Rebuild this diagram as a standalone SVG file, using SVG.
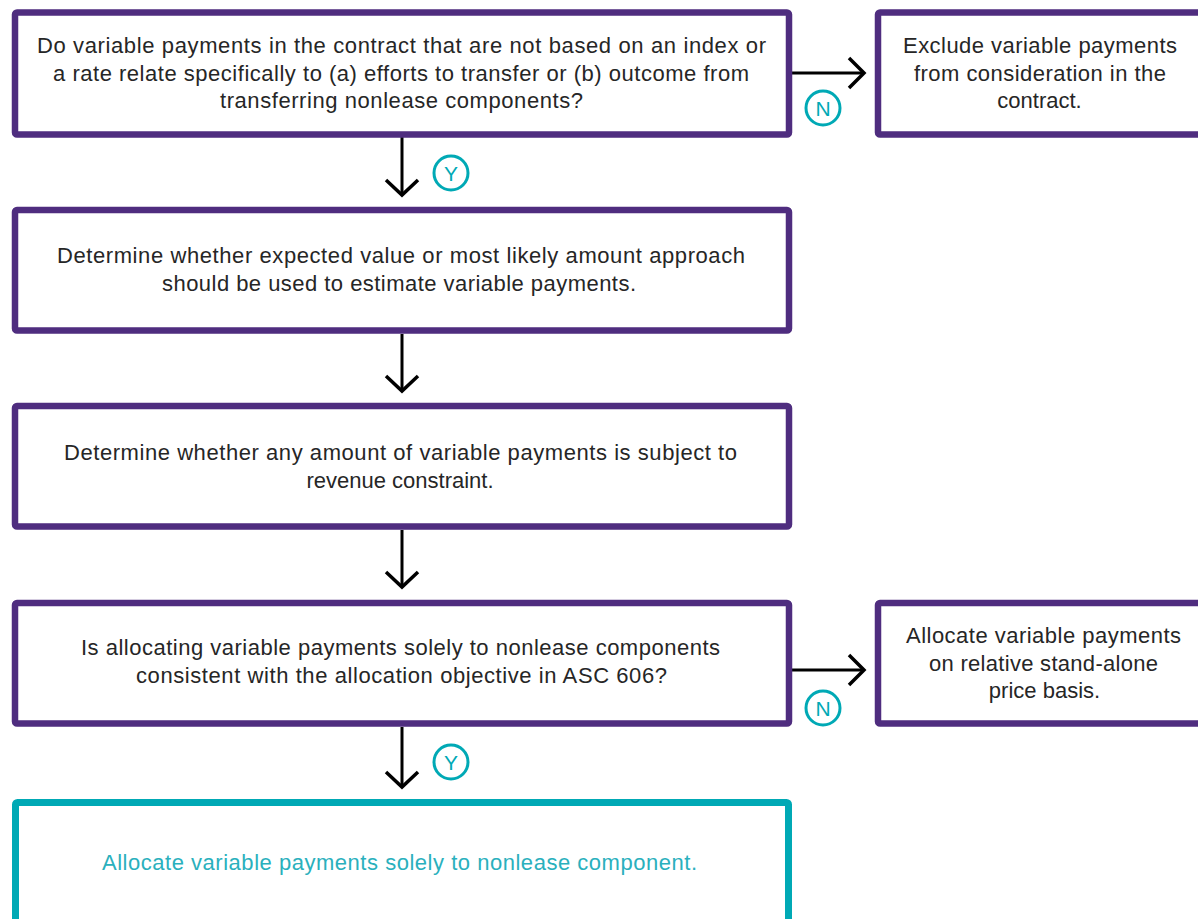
<svg xmlns="http://www.w3.org/2000/svg" width="1198" height="919" viewBox="0 0 1198 919">
<style>
.box{fill:#fff;stroke:#4F2D7F;stroke-width:6.5}
.tbox{fill:#fff;stroke:#00A9B5;stroke-width:7}
.t{font-family:"Liberation Sans",Arial,sans-serif;font-size:22px;fill:#262626;text-anchor:middle}
.tt{font-family:"Liberation Sans",Arial,sans-serif;font-size:22px;fill:#2AB0BD;text-anchor:middle}
.ln{stroke:#000;stroke-width:3;fill:none}
.hd{stroke:#000;stroke-width:3.5;fill:none;stroke-linecap:butt;stroke-linejoin:miter}
.c{fill:#fff;stroke:#00A9B5;stroke-width:3}
.cl{font-family:"Liberation Sans",Arial,sans-serif;font-size:21px;fill:#00A9B5;text-anchor:middle}
</style>
<rect width="1198" height="919" fill="#fff"/>
<g id="connectors">
<line class="ln" x1="402" y1="137" x2="402" y2="194"/>
<polyline class="hd" points="386,180 402,195 418,180"/>
<line class="ln" x1="402" y1="334" x2="402" y2="390"/>
<polyline class="hd" points="386,376 402,391 418,376"/>
<line class="ln" x1="402" y1="530" x2="402" y2="586"/>
<polyline class="hd" points="386,572 402,587 418,572"/>
<line class="ln" x1="402" y1="727" x2="402" y2="786"/>
<polyline class="hd" points="386,772 402,787 418,772"/>
<line class="ln" x1="792" y1="73" x2="863" y2="73"/>
<polyline class="hd" points="849,58 864,73 849,88"/>
<line class="ln" x1="792" y1="670" x2="863" y2="670"/>
<polyline class="hd" points="849,655 864,670 849,685"/>
<g id="label-y1"><circle class="c" cx="451" cy="173" r="17"/><text class="cl" x="451" y="181">Y</text></g>
<g id="label-n1"><circle class="c" cx="823" cy="108" r="17"/><text class="cl" x="823" y="116">N</text></g>
<g id="label-y2"><circle class="c" cx="451" cy="762" r="17"/><text class="cl" x="451" y="770">Y</text></g>
<g id="label-n2"><circle class="c" cx="823" cy="708" r="17"/><text class="cl" x="823" y="716">N</text></g>
</g>
<g id="q1">
<rect class="box" x="15" y="12.5" width="774" height="122" rx="2"/>
<text class="t" x="401.5" y="53" textLength="729" lengthAdjust="spacing">Do variable payments in the contract that are not based on an index or</text>
<text class="t" x="401" y="81" textLength="696" lengthAdjust="spacing">a rate relate specifically to (a) efforts to transfer or (b) outcome from</text>
<text class="t" x="401.5" y="108" textLength="363" lengthAdjust="spacing">transferring nonlease components?</text>
</g>
<g id="exclude">
<rect class="box" x="878" y="12.5" width="330" height="122" rx="2"/>
<text class="t" x="1040" y="53" textLength="274" lengthAdjust="spacing">Exclude variable payments</text>
<text class="t" x="1040" y="81" textLength="252" lengthAdjust="spacing">from consideration in the</text>
<text class="t" x="1039.5" y="108">contract.</text>
</g>
<g id="estimate">
<rect class="box" x="15" y="210" width="774" height="120.5" rx="2"/>
<text class="t" x="401" y="263" textLength="688" lengthAdjust="spacing">Determine whether expected value or most likely amount approach</text>
<text class="t" x="399" y="291" textLength="474" lengthAdjust="spacing">should be used to estimate variable payments.</text>
</g>
<g id="constraint">
<rect class="box" x="15" y="406" width="774" height="120.5" rx="2"/>
<text class="t" x="400.5" y="460" textLength="673" lengthAdjust="spacing">Determine whether any amount of variable payments is subject to</text>
<text class="t" x="400" y="488">revenue constraint.</text>
</g>
<g id="q2">
<rect class="box" x="15" y="603" width="774" height="120.5" rx="2"/>
<text class="t" x="400.5" y="655" textLength="639" lengthAdjust="spacing">Is allocating variable payments solely to nonlease components</text>
<text class="t" x="401.5" y="683" textLength="531" lengthAdjust="spacing">consistent with the allocation objective in ASC 606?</text>
</g>
<g id="standalone">
<rect class="box" x="878" y="603" width="330" height="120.5" rx="2"/>
<text class="t" x="1043.5" y="643" textLength="275" lengthAdjust="spacing">Allocate variable payments</text>
<text class="t" x="1043.5" y="671" textLength="229" lengthAdjust="spacing">on relative stand-alone</text>
<text class="t" x="1044.5" y="698">price basis.</text>
</g>
<g id="allocate-nonlease">
<rect class="tbox" x="15.5" y="802.5" width="773" height="140" rx="2"/>
<text class="tt" x="399.5" y="870" textLength="595" lengthAdjust="spacing">Allocate variable payments solely to nonlease component.</text>
</g>
</svg>
